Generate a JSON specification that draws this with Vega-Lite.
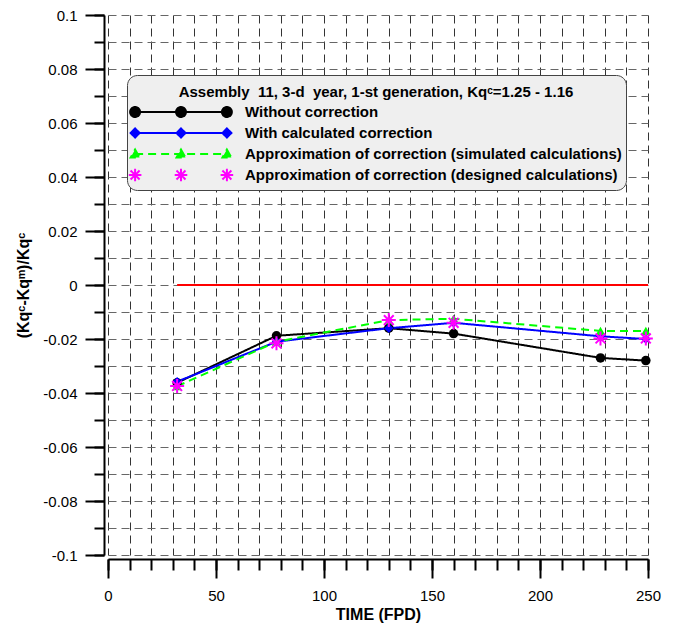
{
  "$schema": "https://vega.github.io/schema/vega-lite/v6.json",
  "width": 540,
  "height": 540,
  "autosize": {"type": "none"},
  "padding": {"left": 108, "top": 15, "right": 27, "bottom": 71},
  "background": "#ffffff",
  "config": {
    "view": {"stroke": null},
    "font": "Liberation Sans",
    "axis": {
      "labelFont": "Liberation Sans",
      "titleFont": "Liberation Sans",
      "labelColor": "#000000",
      "titleColor": "#000000",
      "tickColor": "#000000",
      "domainColor": "#000000",
      "labelFlush": false,
      "labelOverlap": false
    }
  },
  "layer": [
    {
      "data": {"values": [{"start": 32, "end": 250, "level": 0}]},
      "mark": {"type": "rule", "color": "#ff0000", "strokeWidth": 2},
      "encoding": {
        "x": {
          "field": "start",
          "type": "quantitative",
          "scale": {"domain": [0, 250], "nice": false, "zero": false},
          "axis": {
            "orient": "bottom",
            "values": [0, 10, 20, 30, 40, 50, 60, 70, 80, 90, 100, 110, 120, 130, 140, 150, 160, 170, 180, 190, 200, 210, 220, 230, 240, 250],
            "tickSize": 11,
            "tickWidth": 2,
            "labels": false,
            "domain": false,
            "grid": true,
            "gridDash": [8, 5],
            "gridColor": "#333333",
            "gridWidth": 1,
            "offset": 4,
            "title": null
          }
        },
        "x2": {"field": "end"},
        "y": {
          "field": "level",
          "type": "quantitative",
          "scale": {"domain": [-0.1, 0.1], "nice": false, "zero": false},
          "axis": {
            "orient": "left",
            "values": [-0.1, -0.09, -0.08, -0.07, -0.06, -0.05, -0.04, -0.03, -0.02, -0.01, 0, 0.01, 0.02, 0.03, 0.04, 0.05, 0.06, 0.07, 0.08, 0.09, 0.1],
            "tickSize": 10,
            "tickWidth": 2,
            "labels": false,
            "domain": false,
            "grid": true,
            "gridDash": [8, 5],
            "gridColor": "#666666",
            "gridWidth": 1,
            "offset": 4,
            "title": null
          }
        }
      }
    },
    {
      "data": {
        "values": [
          {"time": 32, "series": "Without correction", "value": -0.0362},
          {"time": 78, "series": "Without correction", "value": -0.0188},
          {"time": 130, "series": "Without correction", "value": -0.016},
          {"time": 160, "series": "Without correction", "value": -0.018},
          {"time": 228, "series": "Without correction", "value": -0.027},
          {"time": 249, "series": "Without correction", "value": -0.028},
          {"time": 32, "series": "With calculated correction", "value": -0.0358},
          {"time": 78, "series": "With calculated correction", "value": -0.021},
          {"time": 130, "series": "With calculated correction", "value": -0.016},
          {"time": 160, "series": "With calculated correction", "value": -0.014},
          {"time": 228, "series": "With calculated correction", "value": -0.019},
          {"time": 249, "series": "With calculated correction", "value": -0.02},
          {"time": 32, "series": "Approximation of correction (simulated calculations)", "value": -0.0375},
          {"time": 78, "series": "Approximation of correction (simulated calculations)", "value": -0.021},
          {"time": 130, "series": "Approximation of correction (simulated calculations)", "value": -0.013},
          {"time": 160, "series": "Approximation of correction (simulated calculations)", "value": -0.0125},
          {"time": 228, "series": "Approximation of correction (simulated calculations)", "value": -0.017},
          {"time": 249, "series": "Approximation of correction (simulated calculations)", "value": -0.017},
          {"time": 32, "series": "Approximation of correction (designed calculations)", "value": -0.0374},
          {"time": 78, "series": "Approximation of correction (designed calculations)", "value": -0.0216},
          {"time": 130, "series": "Approximation of correction (designed calculations)", "value": -0.013},
          {"time": 160, "series": "Approximation of correction (designed calculations)", "value": -0.014},
          {"time": 228, "series": "Approximation of correction (designed calculations)", "value": -0.0198},
          {"time": 249, "series": "Approximation of correction (designed calculations)", "value": -0.0198}
        ]
      },
      "encoding": {
        "x": {
          "field": "time",
          "type": "quantitative",
          "scale": {"domain": [0, 250], "nice": false, "zero": false},
          "axis": {
            "orient": "bottom",
            "values": [0, 50, 100, 150, 200, 250],
            "format": "d",
            "tickSize": 19,
            "tickWidth": 2,
            "domainWidth": 2,
            "offset": 4,
            "grid": false,
            "labelFontSize": 15,
            "labelPadding": 10,
            "title": "TIME (FPD)",
            "titleFontSize": 16,
            "titleFontWeight": "bold",
            "titlePadding": 3
          }
        },
        "y": {
          "field": "value",
          "type": "quantitative",
          "scale": {"domain": [-0.1, 0.1], "nice": false, "zero": false},
          "axis": {
            "orient": "left",
            "values": [-0.1, -0.08, -0.06, -0.04, -0.02, 0, 0.02, 0.04, 0.06, 0.08, 0.1],
            "labelExpr": "replace(format(datum.value, '.2~f'), '\u2212', '-')",
            "tickSize": 19,
            "tickWidth": 2,
            "domainWidth": 2,
            "offset": 4,
            "grid": false,
            "labelFontSize": 15,
            "labelPadding": 8,
            "title": "(Kqᶜ-Kqᵐ)/Kqᶜ",
            "titleFontSize": 16,
            "titleFontWeight": "bold",
            "titlePadding": 11
          }
        },
        "color": {
          "field": "series",
          "type": "nominal",
          "scale": {
            "domain": ["Without correction", "With calculated correction", "Approximation of correction (simulated calculations)", "Approximation of correction (designed calculations)"],
            "range": ["#000000", "#0000ff", "#00ff00", "#ff00ff"]
          },
          "legend": {
            "orient": "none",
            "legendX": 19,
            "legendY": 60,
            "title": ["", "Assembly\u00a0 11, 3-d\u00a0 year, 1-st generation, Kqᶜ=1.25 - 1.16"],
            "titleLineHeight": 6,
            "titleFont": "Liberation Sans",
            "titleFontSize": 15,
            "titleFontWeight": "bold",
            "titleColor": "#000000",
            "titleAnchor": "middle",
            "titleLimit": 700,
            "titlePadding": 2,
            "labelFont": "Liberation Sans",
            "labelFontSize": 15,
            "labelFontWeight": "bold",
            "labelColor": "#000000",
            "labelLimit": 700,
            "labelExpr": "datum.label + '\u00a0'",
            "symbolSize": 324,
            "symbolStrokeWidth": 2,
            "symbolOffset": 40,
            "labelOffset": 54,
            "rowPadding": 2,
            "padding": 4,
            "fillColor": "#efefef",
            "strokeColor": "#444444",
            "cornerRadius": 10,
            "encode": {
              "symbols": {
                "update": {
                  "shape": {"signal": "['M-5.1,0L5.1,0M-4.55,0A0.55,0.55,0,1,1,-5.65,0A0.55,0.55,0,1,1,-4.55,0ZM0.55,0A0.55,0.55,0,1,1,-0.55,0A0.55,0.55,0,1,1,0.55,0ZM5.65,0A0.55,0.55,0,1,1,4.55,0A0.55,0.55,0,1,1,5.65,0Z', 'M-5.1,0L5.1,0M-5.1,-0.5L-4.6,0L-5.1,0.5L-5.6,0ZM0,-0.5L0.5,0L0,0.5L-0.5,0ZM5.1,-0.5L5.6,0L5.1,0.5L4.6,0Z', 'M-5.1,0L5.1,0M-5.1,-0.5L-4.6,0.4L-5.6,0.4ZM0,-0.5L0.5,0.4L-0.5,0.4ZM5.1,-0.5L5.6,0.4L4.6,0.4Z', 'M-5.8,0L-4.4,0M-5.1,-0.7L-5.1,0.7M-5.6,-0.5L-4.6,0.5M-5.6,0.5L-4.6,-0.5M-0.7,0L0.7,0M0,-0.7L0,0.7M-0.5,-0.5L0.5,0.5M-0.5,0.5L0.5,-0.5M4.4,0L5.8,0M5.1,-0.7L5.1,0.7M4.6,-0.5L5.6,0.5M4.6,0.5L5.6,-0.5'][datum.index]"},
                  "fill": {"signal": "['#000000', '#0000ff', '#00ff00', 'transparent'][datum.index]"},
                  "stroke": {"signal": "['#000000', '#0000ff', '#00ff00', '#ff00ff'][datum.index]"},
                  "strokeDash": {"signal": "datum.index === 2 ? [8, 5] : [1, 0]"},
                  "strokeWidth": {"value": 2},
                  "size": {"value": 324},
                  "opacity": {"value": 1}
                }
              }
            }
          }
        }
      },
      "layer": [
        {
          "transform": [{"filter": "datum.series !== 'Approximation of correction (designed calculations)'"}],
          "mark": {"type": "line", "strokeWidth": 2},
          "encoding": {
            "strokeDash": {
              "field": "series",
              "type": "nominal",
              "scale": {
                "domain": ["Without correction", "With calculated correction", "Approximation of correction (simulated calculations)"],
                "range": [[1, 0], [1, 0], [8, 5]]
              },
              "legend": null
            }
          }
        },
        {
          "transform": [{"filter": "datum.series !== 'Approximation of correction (designed calculations)'"}],
          "mark": {"type": "point", "filled": true, "opacity": 1, "size": 90},
          "encoding": {
            "shape": {
              "field": "series",
              "type": "nominal",
              "scale": {
                "domain": ["Without correction", "With calculated correction", "Approximation of correction (simulated calculations)"],
                "range": ["circle", "diamond", "triangle-up"]
              },
              "legend": null
            }
          }
        },
        {
          "transform": [{"filter": "datum.series === 'Approximation of correction (designed calculations)'"}],
          "mark": {
            "type": "point",
            "filled": false,
            "opacity": 1,
            "size": 196,
            "strokeWidth": 2,
            "shape": "M-1,0L1,0M0,-1L0,1M-0.7,-0.7L0.7,0.7M-0.7,0.7L0.7,-0.7"
          }
        }
      ]
    }
  ],
  "resolve": {"scale": {"x": "independent", "y": "independent"}}
}
